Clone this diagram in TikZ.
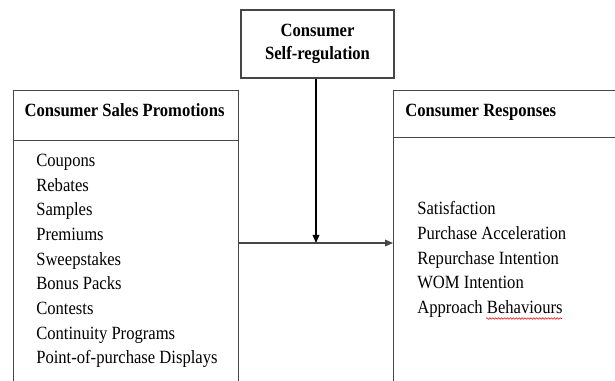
\documentclass[tikz,border=0pt]{standalone}
\usepackage{fontspec}
\setmainfont{Liberation Serif}[FakeStretch=0.89]
\usepackage{xcolor}
\usetikzlibrary{arrows.meta, positioning}
\usetikzlibrary{decorations.pathmorphing}

\definecolor{boxline}{RGB}{70,70,70}

\tikzset{
  panel/.style={draw=boxline, line width=1pt, inner sep=0pt, anchor=north west},
  heading/.style={inner sep=0pt, font=\fontsize{14}{17}\selectfont\bfseries},
  itemlist/.style={inner sep=0pt, align=left, anchor=north west, font=\fontsize{14}{18.5}\selectfont},
  link/.style={line width=1pt, -{Triangle[length=6pt, width=5pt]}}
}

\begin{document}
\begin{tikzpicture}[x=0.75pt,y=0.75pt,yscale=-1,xscale=1]
\useasboundingbox (0,0) rectangle (615,381);
\clip (0,0) rectangle (615,381);

%Shape: Rectangle [self-regulation]
\node [panel, anchor=center, minimum width=114.75pt, minimum height=51pt, align=center,
  font=\fontsize{14}{17}\selectfont\bfseries] (selfreg) at (317.5,44) {\raisebox{-1.5pt}{Consumer}\\\raisebox{-1.5pt}{Self-regulation}};

%Shape: Rectangle [promotions, header and body]
\node [panel, minimum width=168.75pt, minimum height=37.5pt] (promohead) at (13,90) {};
\node [panel, minimum width=168.75pt, minimum height=210pt] (promos) at (13,140) {};

%Shape: Rectangle [responses, header and body]
\node [panel, minimum width=225pt, minimum height=35.25pt] (resphead) at (393,90) {};
\node [panel, minimum width=225pt, minimum height=210pt] (responses) at (393,137) {};

% Text Node
\node [heading, anchor=base] (promotitle) at (124.5,117) {Consumer Sales Promotions};
% Text Node
\node [heading, anchor=base west] (resptitle) at (405,117) {Consumer Responses};
% Text Node
\node [itemlist] (promolist) at (36,154) {Coupons\\Rebates\\Samples\\Premiums\\Sweepstakes\\Bonus Packs\\Contests\\Continuity Programs\\Point-of-purchase Displays};
% Text Node
\node [itemlist] (resplist) at (417,201.5) {Satisfaction\\Purchase Acceleration\\Repurchase Intention\\WOM Intention\\Approach Behaviours};

%Straight Lines [arrows]
\coordinate (junction) at (316,243);
\draw [link, draw=boxline, fill=boxline] (promos.east |- junction) -- (responses.west |- junction);
\draw [link] (selfreg.south -| junction) -- (junction);

%spell-check mark
\draw [red, line width=0.4pt, decorate, decoration={snake, amplitude=0.6pt, segment length=2.2pt}] (486,318.5) -- (562,318.5);

\end{tikzpicture}
\end{document}
